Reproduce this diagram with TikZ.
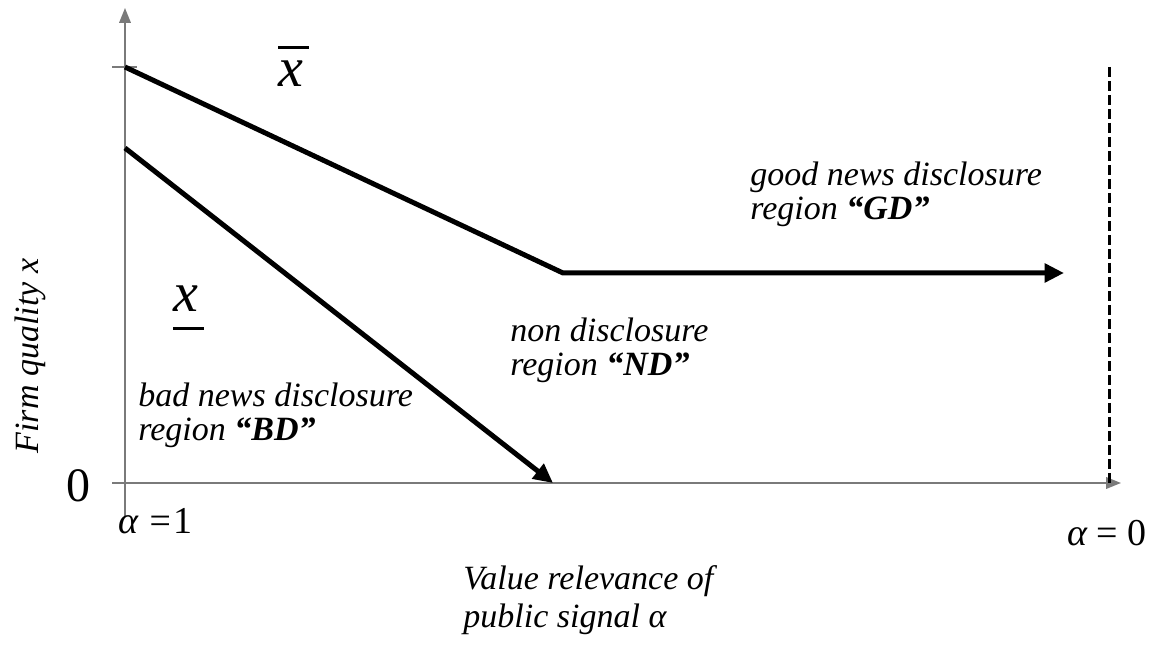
\documentclass[tikz,border=0pt]{standalone}
\usepackage{fontspec}
\setmainfont{Liberation Serif}
\usetikzlibrary{arrows.meta}
\definecolor{ink}{HTML}{000000}
\definecolor{achse}{HTML}{7A7A7A}
\newcommand{\lbl}{\fontsize{17}{17}\selectfont\itshape}
\newcommand{\alb}{\fontsize{19}{19}\selectfont\itshape}
\newcommand{\gross}{\fontsize{28}{28}\selectfont\itshape}
\newcommand{\nullgr}{\fontsize{24}{24}\selectfont}
\newcommand{\strich}[1]{\makebox[0pt][l]{\rule[#1]{0.54em}{1.5pt}}}
\tikzset{achsenpfeil/.style={achse,line width=1pt,-{Triangle[length=2.6mm,width=2mm]}},
  achsenlinie/.style={achse,line width=1pt},
  kurve/.style={ink,line width=2.5pt,line join=miter},
  kurvenpfeil/.style={kurve,-{Triangle[length=3.4mm,width=3.2mm]}},
  grenze/.style={ink,line width=1.5pt,dash pattern=on 5pt off 2pt}}

\begin{document}
\begin{tikzpicture}[x=0.5pt,y=-0.5pt]
\useasboundingbox (0,0) rectangle (1155,656);
\coordinate (ytop) at (125,8);
\coordinate (ybot) at (125,517);
\coordinate (xlinks) at (112,483);
\coordinate (xend) at (1121,483);
\coordinate (tickl) at (112,67);
\coordinate (tickr) at (137,67);
\coordinate (obenA) at (125,67);
\coordinate (knick) at (563,273);
\coordinate (obenE) at (1064,273);
\coordinate (untenA) at (125,148);
\coordinate (untenE) at (553,483);
\coordinate (grenzeA) at (1109,67);
\coordinate (grenzeE) at (1109,483);
\draw[achsenpfeil] (ybot) -- (ytop);
\draw[achsenpfeil] (xlinks) -- (xend);
\draw[achsenlinie] (tickl) -- (tickr);
\draw[kurvenpfeil] (obenA) -- (knick) -- (obenE);
\draw[kurvenpfeil] (untenA) -- (untenE);
\draw[grenze] (grenzeA) -- (grenzeE);
\node[anchor=base west,inner sep=0,text=ink,font=\gross] (xoben) at (278,87) {\strich{0.68em}x};
\node[anchor=base west,inner sep=0,text=ink,font=\gross] (xunten) at (173,312) {\strich{-0.32em}x};
\node[anchor=west,inner sep=0,align=left,text=ink,font=\lbl] (bd) at (138,415) {bad news disclosure\\region \textbf{“BD”}};
\node[anchor=west,inner sep=0,align=left,text=ink,font=\lbl] (nd) at (510,350) {non disclosure\\region \textbf{“ND”}};
\node[anchor=west,inner sep=0,align=left,text=ink,font=\lbl] (gd) at (750,194) {good news disclosure\\region \textbf{“GD”}};
\node[anchor=west,inner sep=0,align=left,text=ink,font=\fontsize{17}{19}\selectfont\itshape] (xlabel) at (463,600) {Value relevance of\\public signal α};
\node[rotate=90,inner sep=0,text=ink,font=\lbl] (ylabel) at (30,356) {Firm quality x};
\node[inner sep=0,text=ink,font=\nullgr] (nullpunkt) at (78,486) {0};
\node[anchor=west,inner sep=0,text=ink,font=\alb] (aeins) at (118,521) {α =\upshape 1};
\node[anchor=west,inner sep=0,text=ink,font=\alb] (anull) at (1067,533) {α \upshape = 0};
\end{tikzpicture}
\end{document}
